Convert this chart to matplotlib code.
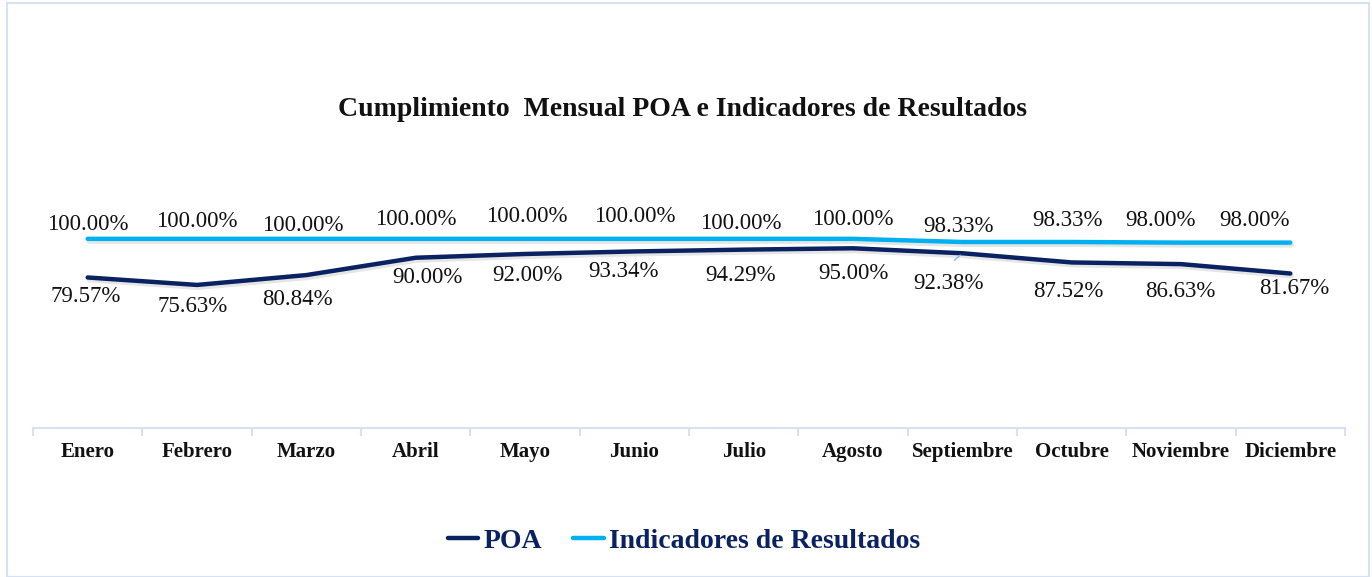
import numpy as np
import matplotlib
matplotlib.use("Agg")
import matplotlib.pyplot as plt
from matplotlib.patches import Rectangle
import matplotlib.patheffects as pe

plt.rcParams['font.family'] = ['Liberation Serif', 'DejaVu Serif']

months = ["Enero", "Febrero", "Marzo", "Abril", "Mayo", "Junio", "Julio",
          "Agosto", "Septiembre", "Octubre", "Noviembre", "Diciembre"]
poa = [79.57, 75.63, 80.84, 90.00, 92.00, 93.34, 94.29, 95.00, 92.38, 87.52, 86.63, 81.67]
indicadores = [100.00, 100.00, 100.00, 100.00, 100.00, 100.00, 100.00, 100.00,
               98.33, 98.33, 98.00, 98.00]

# label offsets (pixels) for each data label
poa_off = [(-2, -19), (-4, -22), (-9, -24), (12, -20), (2, -22), (-11, -20),
           (-3, -26), (0, -25), (-14, -30), (-3, -29), (-1, -27), (4, -15)]
ind_off = [(0, 14), (0, 17), (-4, 13), (0, 19), (2, 22), (0, 22),
           (-3, 15), (0, 19), (-4, 15), (-4, 21), (-21, 22), (-36, 22)]

NAVY = "#0B2262"
CYAN = "#00B0F0"
AXIS = "#D6E2F3"

fig = plt.figure(figsize=(13.72, 5.77), dpi=100)
W, H = 1372, 577
fig.patches.append(Rectangle((7 / W, 0), (1369 - 7) / W, (577 - 3) / H,
                             transform=fig.transFigure, fill=False,
                             edgecolor=AXIS, linewidth=1.5))

ax = fig.add_axes([33 / W, (H - 428) / H, (1345 - 33) / W, (428 - 201) / H])
x = np.arange(len(months))
ax.set_xlim(-0.5, len(months) - 0.5)
ax.set_ylim(0, 120)

shadow = [pe.SimpleLineShadow(offset=(1, -2), shadow_color="gray", alpha=0.2), pe.Normal()]
ax.plot(x, indicadores, color=CYAN, lw=3.2, solid_capstyle="round",
        solid_joinstyle="round", path_effects=shadow, zorder=3)
ax.plot(x, poa, color=NAVY, lw=3.2, solid_capstyle="round",
        solid_joinstyle="round", path_effects=shadow, zorder=3)

for i, v in enumerate(indicadores):
    ax.annotate(f"{v:.2f}%", (x[i], v), xytext=ind_off[i], textcoords="offset pixels",
                ha="center", va="center", fontsize=16.5, color="#111111")
for i, v in enumerate(poa):
    ax.annotate(f"{v:.2f}%", (x[i], v), xytext=poa_off[i], textcoords="offset pixels",
                ha="center", va="center", fontsize=16.5, color="#111111")

# leader line for the September label
ax.annotate("", xy=(x[8], poa[8]), xytext=(-10, -9), textcoords="offset pixels",
            arrowprops=dict(arrowstyle="-", color="#8DB4E2", lw=1))

for s in ["top", "right", "left"]:
    ax.spines[s].set_visible(False)
ax.spines["bottom"].set_color(AXIS)
ax.spines["bottom"].set_linewidth(1.5)
ax.set_yticks([])
ax.set_xticks(np.arange(-0.5, len(months), 1.0), minor=False)
ax.set_xticklabels([])
ax.tick_params(axis="x", which="major", length=6, color=AXIS, width=1.5, direction="out")
ax.set_xticks(x, minor=True)
ax.set_xticklabels(months, minor=True, fontsize=15, fontweight="bold", color="#111111")
ax.tick_params(axis="x", which="minor", length=0, pad=10)

fig.text(683 / W, 1 - 110 / H, "Cumplimiento  Mensual POA e Indicadores de Resultados",
         ha="center", va="center", fontsize=20, fontweight="bold", color="#111111")

h1, = ax.plot([], [], color=NAVY, lw=3.2, solid_capstyle="round")
h2, = ax.plot([], [], color=CYAN, lw=3.2, solid_capstyle="round")
fig.legend([h1, h2], ["POA", "Indicadores de Resultados"], loc="center",
           bbox_to_anchor=(684 / W, 1 - 541 / H), ncol=2, frameon=False,
           prop=dict(size=20, weight="bold"), labelcolor=NAVY,
           handlelength=1.1, handletextpad=0.2, columnspacing=1.1)

fig.savefig("out.png", dpi=100)
